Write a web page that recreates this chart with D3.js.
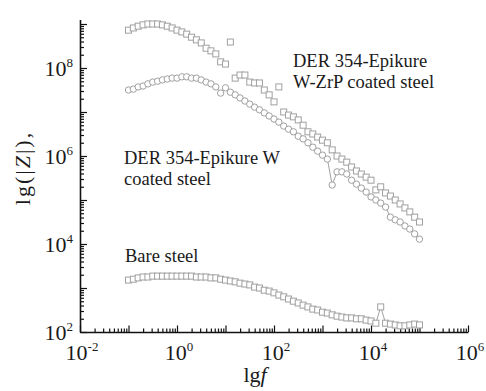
<!DOCTYPE html>
<html>
<head>
<meta charset="utf-8">
<script src="https://cdn.jsdelivr.net/npm/d3@7"></script>
<style>
  body { margin: 0; background: #fff; }
</style>
</head>
<body>
<div id="chart"></div>
<script>
// log10 of frequency for each measured point
const lgF = [
  -1.0, -0.9, -0.8, -0.7, -0.6, -0.5, -0.4, -0.3, -0.2, -0.1,
   0.0,  0.1,  0.2,  0.3,  0.4,  0.5,  0.6,  0.7,  0.8,  0.9,
   1.0,  1.1,  1.2,  1.3,  1.4,  1.5,  1.6,  1.7,  1.8,  1.9,
   2.0,  2.1,  2.2,  2.3,  2.4,  2.5,  2.6,  2.7,  2.8,  2.9,
   3.0,  3.1,  3.2,  3.3,  3.4,  3.5,  3.6,  3.7,  3.8,  3.9,
   4.0,  4.1,  4.2,  4.3,  4.4,  4.5,  4.6,  4.7,  4.8,  4.9,
   5.0
]

// log10 |Z|
const zrpLgZ = [
  8.86, 8.91, 8.95, 8.98, 9.00, 9.00, 9.00, 8.98, 8.95, 8.91,
  8.86, 8.82, 8.77, 8.70, 8.64, 8.57, 8.45, 8.39, 8.32, 8.14,
  8.09, 8.59, 7.77, 7.84, 7.84, 7.68, 7.66, 7.66, 7.50, 7.39,
  7.23, 7.57, 7.00, 6.93, 6.89, 6.82, 6.70, 6.55, 6.50, 6.43,
  6.36, 6.30, 6.14, 6.00, 5.93, 5.86, 5.75, 5.66, 5.59, 5.52,
  5.45, 5.23, 5.30, 5.16, 5.09, 5.00, 4.91, 4.82, 4.73, 4.61,
  4.50
]
const wLgZ = [
  7.50, 7.52, 7.57, 7.59, 7.64, 7.68, 7.70, 7.73, 7.75, 7.77,
  7.77, 7.80, 7.80, 7.77, 7.77, 7.73, 7.68, 7.64, 7.57, 7.43,
  7.55, 7.45, 7.39, 7.32, 7.25, 7.18, 7.11, 7.05, 6.98, 6.91,
  6.84, 6.77, 6.68, 6.61, 6.55, 6.45, 6.39, 6.30, 6.20, 6.11,
  6.02, 5.93, 5.34, 5.64, 5.64, 5.59, 5.45, 5.36, 5.27, 5.18,
  5.07, 5.00, 4.93, 4.84, 4.61, 4.55, 4.50, 4.41, 4.34, 4.23,
  4.11
]
const bareLgZ = [
  3.18, 3.20, 3.23, 3.25, 3.25, 3.27, 3.27, 3.27, 3.27, 3.27,
  3.27, 3.27, 3.27, 3.27, 3.25, 3.25, 3.25, 3.23, 3.23, 3.20,
  3.18, 3.16, 3.14, 3.11, 3.09, 3.07, 3.02, 3.00, 2.95, 2.93,
  2.89, 2.84, 2.80, 2.75, 2.70, 2.66, 2.61, 2.57, 2.52, 2.50,
  2.45, 2.43, 2.39, 2.36, 2.34, 2.32, 2.32, 2.30, 2.30, 2.27,
  2.25, 2.20, 2.57, 2.20, 2.18, 2.16, 2.14, 2.14, 2.16, 2.18,
  2.16
]

const xLabelExp = [-2, 0, 2, 4, 6]
const yLabelExp = [2, 4, 6, 8]

const width = 486
const height = 391
const markColor = '#a0a0a0'
const serif = 'Liberation Serif'

const svg = d3.select('#chart')
  .append('svg')
  .attr('width', width)
  .attr('height', height)

const x = d3.scaleLog().domain([1e-2, 1e6]).range([80, 468])
const y = d3.scaleLog().domain([1e2, Math.pow(10, 9.1)]).range([332, 19.6])

// every log tick (1..9 x 10^n) inside a domain
const logTicks = (lo, hi) => {
  const out = []
  for (let e = lo; e <= hi; e++) {
    for (let m = 1; m < 10; m++) out.push({v: m * Math.pow(10, e), major: m === 1})
  }
  return out
}

const xTicks = logTicks(-2, 6).filter(t => t.v <= 1e6 * 1.0001)
const yTicks = logTicks(2, 9).filter(t => t.v <= y.domain()[1])

// x axis: ticks point up into the plot
const gx = svg.append('g').attr('transform', `translate(0,${y.range()[0]})`)
gx.call(d3.axisBottom(x)
  .tickValues(xTicks.filter(t => !t.major).map(t => t.v))
  .tickSize(-3.5).tickSizeOuter(0).tickFormat(''))
gx.append('g').call(d3.axisBottom(x)
  .tickValues(xTicks.filter(t => t.major).map(t => t.v))
  .tickSize(-6.5).tickSizeOuter(0).tickFormat(''))
  .select('.domain').remove()

// y axis: ticks point right into the plot
const gy = svg.append('g').attr('transform', `translate(${x.range()[0]},0)`)
gy.call(d3.axisLeft(y)
  .tickValues(yTicks.filter(t => !t.major).map(t => t.v))
  .tickSize(-4).tickSizeOuter(0).tickFormat(''))
gy.append('g').call(d3.axisLeft(y)
  .tickValues(yTicks.filter(t => t.major).map(t => t.v))
  .tickSize(-7).tickSizeOuter(0).tickFormat(''))
  .select('.domain').remove()

svg.selectAll('.domain').attr('stroke', '#111').attr('stroke-width', 1.6)
svg.selectAll('.tick line').attr('stroke', '#111').attr('stroke-width', 1.2)

const addText = (px, py, size) => svg.append('text')
  .attr('x', px).attr('y', py)
  .attr('font-family', serif)
  .attr('font-size', size)
  .attr('fill', '#1a1a1a')

// tick labels as 10 with superscript
const powLabel = (sel, e) => {
  sel.append('tspan').text('10')
  sel.append('tspan').attr('dy', -9).attr('font-size', 13).text(e)
}

xLabelExp.forEach(e => {
  addText(x(Math.pow(10, e)) + 2, 360, 22)
    .attr('text-anchor', 'middle')
    .call(powLabel, e)
})

yLabelExp.forEach(e => {
  addText(73, y(Math.pow(10, e)) + 8, 22)
    .attr('text-anchor', 'end')
    .call(powLabel, e)
})

// axis titles
const xt = addText(255, 382, 22).attr('text-anchor', 'middle')
xt.append('tspan').text('lg')
xt.append('tspan').attr('font-style', 'italic').text('f')

const yt = addText(0, 0, 22)
  .attr('transform', 'translate(30,168) rotate(-90)')
  .attr('text-anchor', 'middle')
  .attr('letter-spacing', 2)
yt.append('tspan').text('lg(|')
yt.append('tspan').attr('font-style', 'italic').text('Z')
yt.append('tspan').text('|),')

// series
const toPoints = vals => vals.map((v, i) => [x(Math.pow(10, lgF[i])), y(Math.pow(10, v))])

const line = d3.line()

const drawSquares = (pts, withLine) => {
  const g = svg.append('g')
  if (withLine) {
    g.append('path').attr('d', line(pts))
      .attr('fill', 'none').attr('stroke', markColor).attr('stroke-width', 1)
  }
  g.selectAll('rect').data(pts).enter().append('rect')
    .attr('x', d => d[0] - 3).attr('y', d => d[1] - 3)
    .attr('width', 6).attr('height', 6)
    .attr('fill', '#fff').attr('stroke', markColor).attr('stroke-width', 1)
}

const drawCircles = (pts, withLine) => {
  const g = svg.append('g')
  if (withLine) {
    g.append('path').attr('d', line(pts))
      .attr('fill', 'none').attr('stroke', markColor).attr('stroke-width', 1)
  }
  g.selectAll('circle').data(pts).enter().append('circle')
    .attr('cx', d => d[0]).attr('cy', d => d[1]).attr('r', 3.2)
    .attr('fill', '#fff').attr('stroke', markColor).attr('stroke-width', 1)
}

drawSquares(toPoints(zrpLgZ), false)
drawCircles(toPoints(wLgZ), true)
drawSquares(toPoints(bareLgZ), true)

// annotations
const note = (lines, px, py, dy) => {
  const t = addText(px, py, 18.5)
  lines.forEach((s, i) => t.append('tspan').attr('x', px).attr('dy', i ? dy : 0).text(s))
}
note(['DER 354-Epikure', 'W-ZrP coated steel'], 293, 67, 21)
note(['DER 354-Epikure W', 'coated steel'], 124, 164, 21)
note(['Bare steel'], 125, 262, 0)
</script>
</body>
</html>
